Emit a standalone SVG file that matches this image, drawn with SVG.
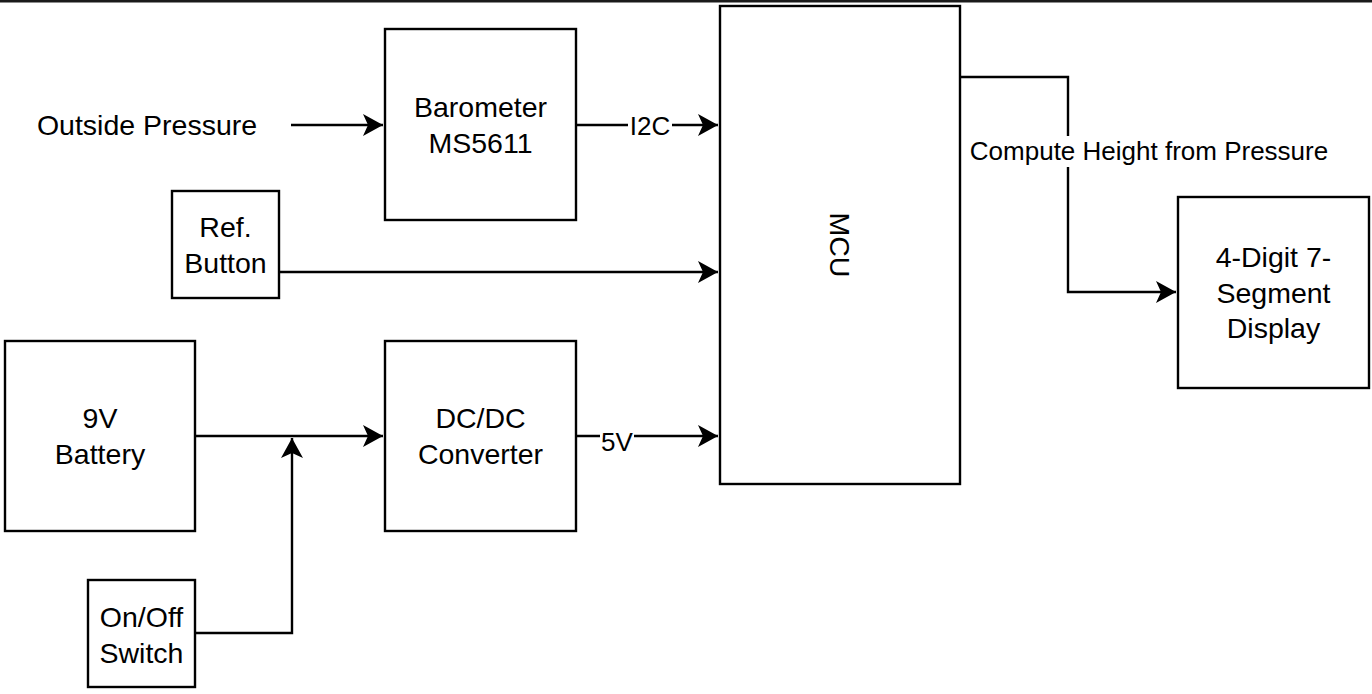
<svg xmlns="http://www.w3.org/2000/svg" width="1372" height="694" viewBox="0 0 1372 694">
<style>
.box{fill:#fff;stroke:#000;stroke-width:2.4}
.t{font-family:"Liberation Sans",Arial,sans-serif;font-size:28.5px;fill:#000;text-anchor:middle}
.e{font-family:"Liberation Sans",Arial,sans-serif;font-size:26px;fill:#000;text-anchor:middle}
.ln{fill:none;stroke:#000;stroke-width:2.4}
</style>
<defs>
<marker id="arr" markerUnits="userSpaceOnUse" markerWidth="24" markerHeight="26" refX="22" refY="12" orient="auto" viewBox="0 0 24 24">
<path d="M22,12 L2,1 L7,12 L2,23 Z" fill="#000"/>
</marker>
</defs>
<rect x="0" y="0" width="1372" height="2.5" fill="#1a1a1a"/>
<g id="connectors">
<path class="ln" d="M291,125 H383" marker-end="url(#arr)"/>
<path class="ln" d="M576,125 H718" marker-end="url(#arr)"/>
<path class="ln" d="M279,272 H718" marker-end="url(#arr)"/>
<path class="ln" d="M195,436 H383" marker-end="url(#arr)"/>
<path class="ln" d="M195,633 H292 V438" marker-end="url(#arr)"/>
<path class="ln" d="M576,436 H718" marker-end="url(#arr)"/>
<path class="ln" d="M960,77 H1068 V292 H1176" marker-end="url(#arr)"/>
<rect x="628" y="114" width="44" height="24" fill="#fff"/>
<text class="e" x="650" y="135">I2C</text>
<rect x="600" y="430" width="34" height="24" fill="#fff"/>
<text class="e" x="617" y="451">5V</text>
<rect x="966" y="136" width="366" height="31" fill="#fff"/>
<text class="e" x="1149" y="160">Compute Height from Pressure</text>
</g>
<g id="outside-pressure">
<text class="t" x="147" y="135">Outside Pressure</text>
</g>
<g id="barometer">
<rect class="box" x="385" y="29" width="191" height="191"/>
<text class="t" x="480.5" y="117">Barometer</text>
<text class="t" x="480.5" y="153">MS5611</text>
</g>
<g id="ref-button">
<rect class="box" x="172" y="191" width="107" height="107"/>
<text class="t" x="225.5" y="237">Ref.</text>
<text class="t" x="225.5" y="273">Button</text>
</g>
<g id="battery">
<rect class="box" x="5" y="341" width="190" height="190"/>
<text class="t" x="100" y="428">9V</text>
<text class="t" x="100" y="464">Battery</text>
</g>
<g id="dcdc">
<rect class="box" x="385" y="341" width="191" height="190"/>
<text class="t" x="480.5" y="428">DC/DC</text>
<text class="t" x="480.5" y="464">Converter</text>
</g>
<g id="switch">
<rect class="box" x="88" y="580" width="107" height="107"/>
<text class="t" x="141.5" y="627">On/Off</text>
<text class="t" x="141.5" y="663">Switch</text>
</g>
<g id="mcu">
<rect class="box" x="720" y="6" width="240" height="478"/>
<text class="t" transform="translate(840,245) rotate(90)" y="10">MCU</text>
</g>
<g id="display">
<rect class="box" x="1178" y="197" width="191" height="191"/>
<text class="t" x="1273.5" y="267">4-Digit 7-</text>
<text class="t" x="1273.5" y="303">Segment</text>
<text class="t" x="1273.5" y="338">Display</text>
</g>
</svg>
